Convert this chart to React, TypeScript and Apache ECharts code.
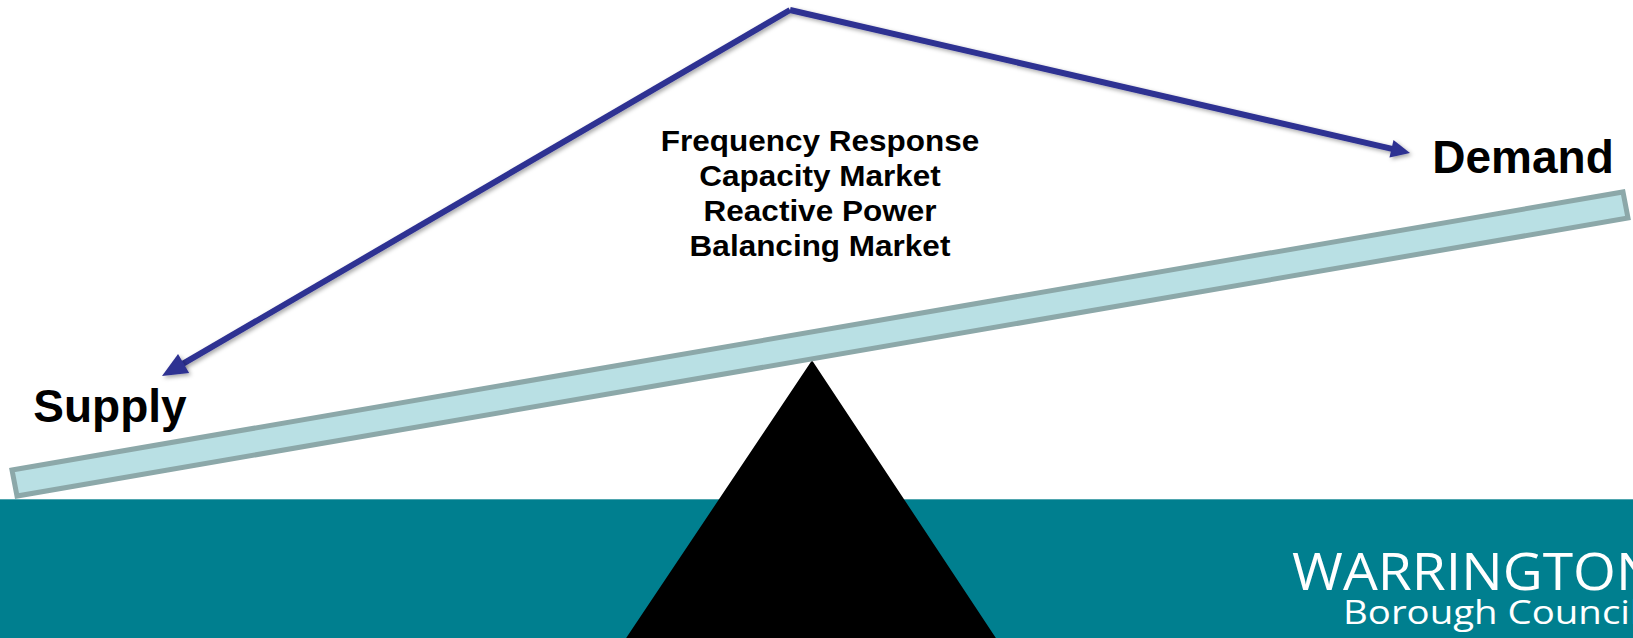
import React, { useEffect, useRef } from "react";
import * as echarts from "echarts";

// ---- data (diagram geometry in canvas units) ----
const BAND: number[][] = [[0, 499], [1633, 638]];
const FULCRUM: number[][] = [[812, 362], [996, 640], [626, 640]];
const BEAM: number[][] = [[12, 470], [1623, 192], [1628, 218], [17, 496]];
const ARROW_APEX: number[] = [790, 10];
const ARROW_TIPS: number[][] = [[162, 376], [1410, 153]];
const SERVICES: string[] = ["Frequency Response", "Capacity Market", "Reactive Power", "Balancing Market"];
const SIDE_LABELS: string[] = ["Supply", "Demand"];
const LOGO_LINES: string[] = ["WARRINGTON", "Borough Council"];

const W = 1633;
const H = 638;
const ARROW_COLOR = "#2E3192";
const HEAD_SIZES = [[25, 22], [19, 18]];

export default function App() {
  const ref = useRef<HTMLDivElement>(null);

  useEffect(() => {
    if (!ref.current) return;
    const chart = echarts.init(ref.current, undefined, { renderer: "svg" });

    const poly = (api: any, pts: number[][]) => pts.map((p) => api.coord(p));

    const option: any = {
      animation: false,
      backgroundColor: "#ffffff",
      grid: { left: 0, right: 0, top: 0, bottom: 0 },
      xAxis: { type: "value", min: 0, max: W, show: false },
      yAxis: { type: "value", min: 0, max: H, inverse: true, show: false },
      series: [
        {
          type: "custom",
          name: "band",
          data: [[0, 0]],
          z: 1,
          renderItem: (_p: any, api: any) => {
            const a = api.coord(BAND[0]);
            const b = api.coord(BAND[1]);
            return {
              type: "group",
              children: [
                { type: "rect", shape: { x: a[0], y: a[1], width: b[0] - a[0], height: b[1] - a[1] }, style: { fill: "#007F8F" } },
                { type: "line", shape: { x1: a[0], y1: a[1] + 0.5, x2: b[0], y2: a[1] + 0.5 }, style: { stroke: "#4FA6AF", lineWidth: 1 } },
              ],
            };
          },
        },
        {
          type: "custom",
          name: "fulcrum",
          data: [[0, 0]],
          z: 2,
          renderItem: (_p: any, api: any) => ({
            type: "polygon",
            shape: { points: poly(api, FULCRUM) },
            style: { fill: "#000000", stroke: "#000000", lineWidth: 2, lineJoin: "round" },
          }),
        },
        {
          type: "custom",
          name: "beam",
          data: [[0, 0]],
          z: 3,
          renderItem: (_p: any, api: any) => ({
            type: "polygon",
            shape: { points: poly(api, BEAM) },
            style: { fill: "#B9E0E4", stroke: "#8CA8A9", lineWidth: 5, lineJoin: "miter" },
          }),
        },
        {
          type: "custom",
          name: "arrows",
          data: [[0, 0]],
          z: 4,
          renderItem: (_p: any, api: any) => {
            const apex = api.coord(ARROW_APEX);
            const children: any[] = [];
            ARROW_TIPS.forEach((tipD, i) => {
              const tip = api.coord(tipD);
              const dx = tip[0] - apex[0];
              const dy = tip[1] - apex[1];
              const len = Math.sqrt(dx * dx + dy * dy);
              const ux = dx / len;
              const uy = dy / len;
              const nx = -uy;
              const ny = ux;
              const [L, Wd] = HEAD_SIZES[i];
              const bx = tip[0] - ux * L;
              const by = tip[1] - uy * L;
              const shadow = { shadowBlur: 4, shadowColor: "rgba(0,0,0,0.35)", shadowOffsetX: 2, shadowOffsetY: 2 };
              children.push({
                type: "line",
                shape: { x1: apex[0], y1: apex[1], x2: bx + ux * 4, y2: by + uy * 4 },
                style: { stroke: ARROW_COLOR, lineWidth: 6, lineCap: "butt", ...shadow },
              });
              children.push({
                type: "polygon",
                shape: {
                  points: [
                    [tip[0], tip[1]],
                    [bx + nx * Wd / 2, by + ny * Wd / 2],
                    [bx - nx * Wd / 2, by - ny * Wd / 2],
                  ],
                },
                style: { fill: ARROW_COLOR, ...shadow },
              });
            });
            return { type: "group", children };
          },
        },
      ],
      graphic: [
        ...SERVICES.map((t, i) => ({
          type: "text",
          x: 820,
          y: 141 + i * 35,
          scaleX: 1.05,
          z: 10,
          style: {
            text: t,
            x: 0,
            y: 0,
            fontFamily: "'Liberation Sans', Arial, sans-serif",
            fontWeight: "bold",
            fontSize: 30,
            fill: "#000000",
            align: "center",
            verticalAlign: "middle",
          },
        })),
        {
          type: "text",
          x: 110,
          y: 406,
          z: 10,
          style: {
            text: SIDE_LABELS[0],
            fontFamily: "'Liberation Sans', Arial, sans-serif",
            fontWeight: "bold",
            fontSize: 46,
            fill: "#000000",
            align: "center",
            verticalAlign: "middle",
          },
        },
        {
          type: "text",
          x: 1523,
          y: 157,
          z: 10,
          style: {
            text: SIDE_LABELS[1],
            fontFamily: "'Liberation Sans', Arial, sans-serif",
            fontWeight: "bold",
            fontSize: 46,
            fill: "#000000",
            align: "center",
            verticalAlign: "middle",
          },
        },
        {
          type: "text",
          x: 1292,
          y: 570,
          scaleX: 1.06,
          z: 10,
          style: {
            text: LOGO_LINES[0],
            fontFamily: "'Open Sans', 'Noto Sans', sans-serif",
            fontSize: 52,
            fill: "#ffffff",
            align: "left",
            verticalAlign: "middle",
          },
        },
        {
          type: "text",
          x: 1343,
          y: 611,
          scaleX: 1.2,
          z: 10,
          style: {
            text: LOGO_LINES[1],
            fontFamily: "'Open Sans', 'Noto Sans', sans-serif",
            fontSize: 32,
            fill: "#ffffff",
            align: "left",
            verticalAlign: "middle",
          },
        },
      ],
    };

    chart.setOption(option);
    return () => chart.dispose();
  }, []);

  return (
    <div
      ref={ref}
      style={{ position: "absolute", left: 0, top: 0, width: W, height: H }}
    />
  );
}
